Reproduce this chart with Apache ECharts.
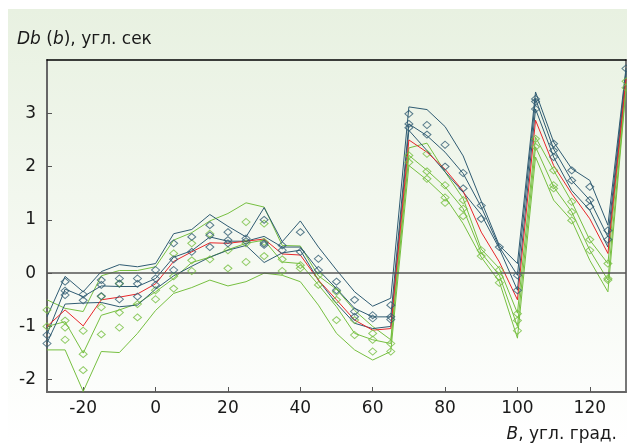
<!DOCTYPE html>
<html>
<head>
<meta charset="utf-8">
<script src="https://cdn.jsdelivr.net/npm/echarts@6/dist/echarts.min.js"></script>
<style>
  html, body { margin: 0; padding: 0; background: #fff; }
  #container { width: 627px; height: 448px; }
</style>
</head>
<body>
<div id="container"></div>
<script>
const dom = document.getElementById("container");
const myChart = echarts.init(dom);

// latitude B, deg
const xs = [-30, -25, -20, -15, -10, -5, 0, 5, 10, 15, 20, 25, 30, 35, 40, 45, 50, 55, 60, 65,
  70, 75, 80, 85, 90, 95, 100, 105, 110, 115, 120, 125, 130];

// dark blue curves
const blueTop = [-0.82, -0.06, -0.35, 0.03, 0.16, 0.12, 0.18, 0.74, 0.82, 1.1, 0.88, 0.68, 1.23, 0.59, 0.98, 0.49, 0.06, -0.35, -0.62, -0.47,
  3.12, 3.07, 2.75, 2.2, 1.35, 0.52, 0.18, 3.4, 2.46, 1.96, 1.74, 0.9, 3.85];
const blueMid = [-1.15, -0.3, -0.44, -0.24, -0.25, -0.25, -0.1, 0.3, 0.42, 0.68, 0.6, 0.6, 0.69, 0.49, 0.49, 0.06, -0.29, -0.66, -0.82, -0.82,
  2.8, 2.58, 2.27, 1.87, 1.24, 0.49, -0.04, 3.27, 2.33, 1.74, 1.37, 0.68, 3.8];
const blueLow = [-1.31, -0.58, -0.56, -0.55, -0.63, -0.6, -0.3, -0.05, 0.13, 0.3, 0.43, 0.52, 0.2, 0.38, 0.43, -0.13, -0.57, -0.94, -1.04, -1.0,
  2.68, 2.3, 1.9, 1.52, 1.1, 0.46, -0.32, 3.08, 2.18, 1.55, 1.18, 0.49, 3.75];

// mean (red)
const mean = [-1.0, -0.69, -0.99, -0.5, -0.45, -0.39, -0.2, 0.22, 0.4, 0.57, 0.56, 0.6, 0.64, 0.36, 0.34, -0.13, -0.5, -0.88, -1.07, -1.04,
  2.5, 2.27, 1.95, 1.54, 0.77, 0.21, -0.5, 2.87, 2.02, 1.49, 1.02, 0.37, 3.65];

// green curves
const greenTop = [-0.5, -0.66, -0.72, -0.05, 0.05, 0.05, 0.12, 0.62, 0.76, 0.98, 1.12, 1.32, 1.24, 0.52, 0.51, -0.05, -0.3, -0.7, -1.0, -1.25,
  2.35, 2.44, 1.9, 1.4, 0.45, 0.09, -0.75, 2.55, 1.93, 1.34, 0.62, 0.18, 3.6];
const greenMid = [-1.0, -0.91, -1.5, -0.79, -0.69, -0.57, -0.35, -0.1, 0.2, 0.3, 0.44, 0.56, 0.62, 0.21, 0.18, -0.22, -0.63, -1.13, -1.25, -1.32,
  2.21, 1.93, 1.62, 1.21, 0.38, -0.04, -1.0, 2.37, 1.62, 1.15, 0.43, -0.13, 3.5];
const greenLow = [-1.44, -1.44, -2.22, -1.47, -1.49, -1.13, -0.7, -0.38, -0.27, -0.13, -0.24, -0.16, 0.0, -0.04, -0.16, -0.6, -1.13, -1.44, -1.63, -1.47,
  2.02, 1.75, 1.43, 0.93, 0.3, -0.16, -1.22, 2.18, 1.37, 0.99, 0.24, -0.35, 3.45];

// single measurements, one list per latitude
const blueDots = [[-1.16, -1.32], [-0.16, -0.33, -0.41], [-0.4, -0.51], [-0.13, -0.22, -0.43], [-0.1, -0.2, -0.49], [-0.1, -0.2, -0.44],
  [0.06, -0.1, -0.22], [0.56, 0.26, 0.06], [0.68, 0.4], [0.9, 0.71, 0.49], [0.77, 0.62, 0.56], [0.65, 0.6], [1.0, 0.56, 0.53],
  [0.52, 0.43], [0.77, 0.4], [0.27, 0.06], [-0.16, -0.32], [-0.5, -0.72, -0.82], [-0.79, -0.85], [-0.6, -0.82, -0.87],
  [2.99, 2.8, 2.73], [2.78, 2.6], [2.41, 2.0], [1.88, 1.59], [1.27, 1.02], [0.49], [-0.04, -0.32],
  [3.27, 3.22, 3.08], [2.43, 2.3, 2.18], [1.93, 1.74], [1.62, 1.37, 1.25], [0.8, 0.63], [3.84]];
const greenDots = [[-0.69, -1.0], [-0.89, -1.02, -1.25], [-1.08, -1.52, -1.82], [-0.44, -0.64, -1.15], [-0.19, -0.74, -1.02], [-0.58, -0.83],
  [-0.32, -0.49], [0.37, -0.06, -0.29], [0.56, 0.24, 0.04], [0.74, 0.26], [0.43, 0.09], [0.96, 0.56, 0.21], [0.93, 0.59, 0.32],
  [0.26, 0.04], [0.15, 0.09], [-0.04, -0.22], [-0.35, -0.5, -0.88], [-0.88, -1.16], [-1.13, -1.25, -1.47], [-1.32, -1.47],
  [2.21, 2.08], [2.24, 1.91, 1.77], [1.65, 1.42, 1.32], [1.37, 1.21, 1.07], [0.43, 0.32], [0.06, -0.07, -0.18], [-0.76, -0.89, -1.08],
  [2.52, 2.37], [1.93, 1.65, 1.59], [1.34, 1.15, 0.99], [0.63, 0.43], [0.18, -0.1, -0.13], [3.6, 3.48]];

const BLUE = '#2f5b72';
const GREEN = '#76bf40';
const RED = '#e8262a';
const FONT = 'DejaVu Sans';
const FS = 17;

const pairs = ys => xs.map((x, i) => [x, ys[i]]);
const dotPairs = sets => sets.flatMap((vals, i) => vals.map(v => [xs[i], v]));

const lineSeries = (name, ys, color, z) => ({
  name: name,
  type: 'line',
  data: pairs(ys),
  showSymbol: false,
  silent: true,
  z: z,
  lineStyle: { color: color, width: 1 },
  animation: false
});

const dotSeries = (name, sets, color) => ({
  name: name,
  type: 'scatter',
  data: dotPairs(sets),
  symbol: 'diamond',
  symbolSize: [8, 7],
  silent: true,
  z: 5,
  itemStyle: { color: 'rgba(0,0,0,0)', borderColor: color, borderWidth: 1 },
  animation: false
});

const titleStyle = text => ({
  text: text,
  font: FS + 'px "' + FONT + '"',
  fill: '#1a1a1a',
  rich: { i: { fontStyle: 'italic', fontSize: FS, fontFamily: FONT, fill: '#1a1a1a' } }
});

const option = {
  animation: false,
  graphic: [
    {
      type: 'rect', z: -100, silent: true,
      shape: { x: 8, y: 9, width: 619, height: 432 },
      style: {
        fill: new echarts.graphic.LinearGradient(0, 0, 0, 1, [
          { offset: 0, color: '#e8f1e1' },
          { offset: 1, color: '#ffffff' }
        ])
      }
    },
    { type: 'text', left: 17, top: 31, style: titleStyle('{i|Db} ({i|b}), угл. сек') },
    { type: 'text', right: 10, top: 426, style: titleStyle('{i|B}, угл. град.') }
  ],
  grid: { left: 47, right: 1, top: 60, bottom: 56 },
  xAxis: [
    {
      type: 'value', min: -30, max: 130, splitNumber: 8,
      axisLine: { onZero: false, lineStyle: { color: '#666', width: 2 } },
      axisTick: { inside: true, length: 5, lineStyle: { color: '#555' } },
      axisLabel: { fontSize: FS, fontFamily: FONT, color: '#1a1a1a', margin: 8, showMinLabel: false, showMaxLabel: false },
      splitLine: { show: false }
    },
    {
      type: 'value', position: 'top', min: -30, max: 130,
      axisLine: { onZero: false, lineStyle: { color: '#000', width: 1.5 } },
      axisTick: { show: false }, axisLabel: { show: false }, splitLine: { show: false }
    }
  ],
  yAxis: [
    {
      type: 'value', min: -2.23, max: 4, splitNumber: 6,
      axisLine: { show: true, onZero: false, lineStyle: { color: '#666', width: 2 } },
      axisTick: { show: true, inside: true, length: 5, lineStyle: { color: '#555' } },
      axisLabel: { fontSize: FS, fontFamily: FONT, color: '#1a1a1a', margin: 11, showMinLabel: false, showMaxLabel: false },
      splitLine: { show: false }
    },
    {
      type: 'value', position: 'right', min: -2.23, max: 4,
      axisLine: { show: true, onZero: false, lineStyle: { color: '#777', width: 2 } },
      axisTick: { show: false }, axisLabel: { show: false }, splitLine: { show: false }
    }
  ],
  series: [
    lineSeries('greenLow', greenLow, GREEN, 2),
    lineSeries('greenMid', greenMid, GREEN, 2),
    lineSeries('greenTop', greenTop, GREEN, 2),
    lineSeries('blueLow', blueLow, BLUE, 3),
    lineSeries('blueMid', blueMid, BLUE, 3),
    lineSeries('blueTop', blueTop, BLUE, 3),
    Object.assign(lineSeries('mean', mean, RED, 4), {
      markLine: {
        silent: true, symbol: 'none', label: { show: false },
        lineStyle: { color: '#555', type: 'solid', width: 1.5 },
        data: [{ yAxis: 0 }]
      }
    }),
    dotSeries('greenDots', greenDots, GREEN),
    dotSeries('blueDots', blueDots, BLUE)
  ]
};

myChart.setOption(option);
</script>
</body>
</html>
